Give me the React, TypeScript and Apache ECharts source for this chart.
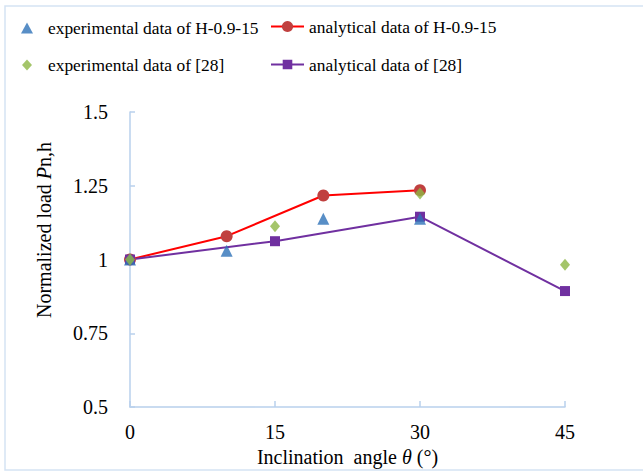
import React, { useEffect, useRef } from "react";
import * as echarts from "echarts";

const expHAngles = [0, 10, 20, 30];
const expHValues = [1.0, 1.03, 1.138, 1.138];
const anaHAngles = [0, 10, 20, 30];
const anaHValues = [1.0, 1.079, 1.217, 1.235];
const exp28Angles = [0, 15, 30, 45];
const exp28Values = [1.0, 1.113, 1.224, 0.982];
const ana28Angles = [0, 15, 30, 45];
const ana28Values = [1.0, 1.062, 1.145, 0.893];

const names = [
  "experimental data of H-0.9-15",
  "analytical data of H-0.9-15",
  "experimental data of [28]",
  "analytical data of [28]",
];

const FONT = "'Liberation Serif', 'Times New Roman', serif";
const AXIS_COLOR = "#B8D0EC";

const pair = (xs: number[], ys: number[]) => xs.map((x, i) => [x, ys[i]]);

export default function App() {
  const ref = useRef<HTMLDivElement>(null);
  useEffect(() => {
    if (!ref.current) return;
    const chart = echarts.init(ref.current, undefined, { renderer: "svg" });
    const legendText = { fontFamily: FONT, fontSize: 17.4, color: "#000" };
    chart.setOption({
      animation: false,
      backgroundColor: "#fff",
      grid: { left: 130, right: 78, top: 112, bottom: 66 },
      legend: [
        { data: [names[0]], padding: 0, left: 21, top: 25 - 5.5, itemWidth: 12, itemHeight: 11, textStyle: { ...legendText, padding: [0, 0, 0, 10] } },
        { data: [names[1]], padding: 0, left: 270, top: 25 - 7, itemWidth: 33, itemHeight: 14, textStyle: legendText },
        { data: [names[2]], padding: 0, left: 22, top: 62 - 5.5, itemWidth: 10, itemHeight: 11, textStyle: { ...legendText, padding: [0, 0, 0, 11] } },
        { data: [names[3]], padding: 0, left: 270, top: 62 - 6, itemWidth: 33, itemHeight: 12, textStyle: legendText },
      ],
      xAxis: {
        type: "value",
        min: 0,
        max: 45,
        interval: 15,
        name: "Inclination  angle {i|θ} (°)",
        nameLocation: "middle",
        nameGap: 40,
        nameTextStyle: {
          fontFamily: FONT,
          fontSize: 20,
          color: "#000",
          rich: { i: { fontFamily: FONT, fontSize: 20, fontStyle: "italic", color: "#000" } },
        },
        axisLine: { show: true, lineStyle: { color: AXIS_COLOR, width: 1.5 } },
        axisTick: { show: true, inside: true, length: 6, lineStyle: { color: AXIS_COLOR, width: 1.5 } },
        axisLabel: { fontFamily: FONT, fontSize: 20, color: "#000", margin: 15 },
        splitLine: { show: false },
      },
      yAxis: {
        type: "value",
        min: 0.5,
        max: 1.5,
        interval: 0.25,
        axisLine: { show: true, lineStyle: { color: AXIS_COLOR, width: 1.5 } },
        axisTick: { show: true, inside: true, length: 5, lineStyle: { color: AXIS_COLOR, width: 1.5 } },
        axisLabel: { fontFamily: FONT, fontSize: 20, color: "#000", margin: 22 },
        splitLine: { show: false },
      },
      graphic: [
        {
          type: "rect",
          silent: true,
          z: -10,
          shape: { x: 5, y: 6, width: 660, height: 464 },
          style: { fill: "none", stroke: "#D5E3F3", lineWidth: 1.5 },
        },
        {
          type: "text",
          x: 44,
          y: 230,
          rotation: Math.PI / 2,
          style: {
            text: "{a|Normalized load }{b|P}{a|n,h}",
            align: "center",
            verticalAlign: "middle",
            rich: {
              a: { fontFamily: FONT, fontSize: 20, fill: "#000" },
              b: { fontFamily: FONT, fontSize: 20, fontStyle: "italic", fill: "#000" },
            },
          },
        },
      ],
      series: [
        {
          name: names[1],
          type: "line",
          data: pair(anaHAngles, anaHValues),
          symbol: "circle",
          symbolSize: 12,
          lineStyle: { color: "#FF0000", width: 2 },
          itemStyle: { color: "#C0403F" },
          z: 2,
        },
        {
          name: names[3],
          type: "line",
          data: pair(ana28Angles, ana28Values),
          symbol: "rect",
          symbolSize: 10,
          lineStyle: { color: "#7030A0", width: 2 },
          itemStyle: { color: "#7030A0" },
          z: 2,
        },
        {
          name: names[0],
          type: "scatter",
          data: pair(expHAngles, expHValues),
          symbol: "triangle",
          symbolSize: 12,
          itemStyle: { color: "#2E72B8" },
          z: 3,
        },
        {
          name: names[2],
          type: "scatter",
          data: pair(exp28Angles, exp28Values),
          symbol: "diamond",
          symbolSize: [10, 12],
          itemStyle: { color: "#8DB645" },
          z: 4,
        },
      ],
    });
    return () => chart.dispose();
  }, []);
  return (
    <div
      ref={ref}
      style={{ position: "absolute", left: 0, top: 0, width: 643, height: 473, background: "#fff" }}
    />
  );
}
